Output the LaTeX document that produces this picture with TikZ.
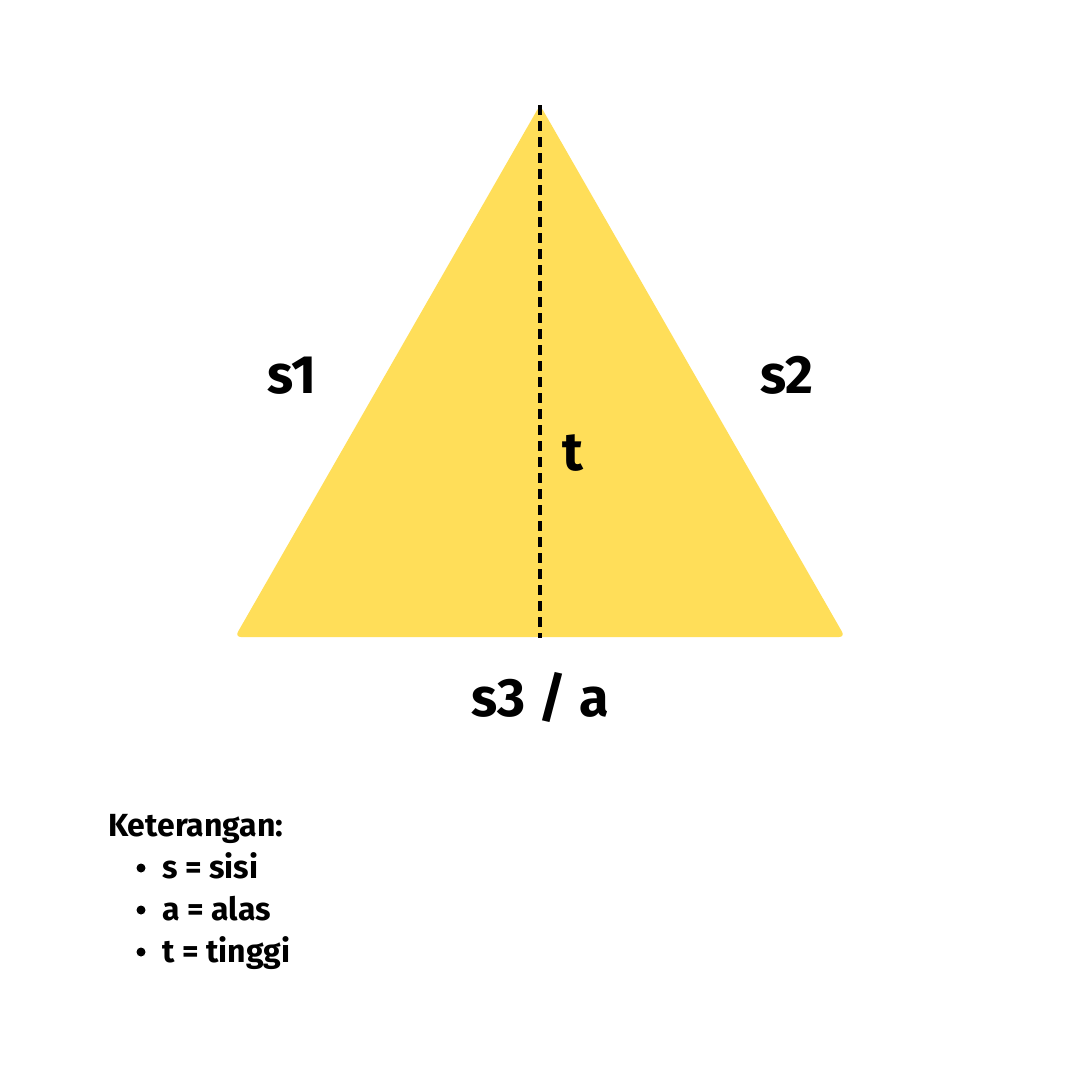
\documentclass[tikz,border=0pt]{standalone}
\usepackage{fontspec}
\setmainfont{Fira Sans}[BoldFont={Fira Sans Bold}]
\definecolor{tri}{HTML}{FFDE59}
\begin{document}
\begin{tikzpicture}[x=1pt,y=-1pt,
  big/.style={font=\bfseries\fontsize{54}{60}\selectfont,inner sep=0pt,anchor=base},
  small/.style={font=\bfseries\fontsize{32}{36}\selectfont,inner sep=0pt,anchor=base west}]
\useasboundingbox[fill=white] (0,0) rectangle (1080,1080);
\coordinate (A) at (540,105);
\coordinate (B) at (235,637);
\coordinate (C) at (845,637);
\coordinate (H) at (540,638);
\fill[tri,rounded corners=6pt] (A) -- (C) -- (B) -- cycle;
\draw[line width=3.6pt,dash pattern=on 10pt off 6pt] (A) -- (H);
\node[big] (s1) at (292,393) {s1};
\node[big] (s2) at (787,393) {s2};
\node[big] (t) at (573,470) {t};
\node[big] (s3) at (540,716) {s3 / a};
\node[small] (ket) at (108,836) {Keterangan:};
\node[small] (i1) at (162,878) {s = sisi};
\node[small] (i2) at (162,920) {a = alas};
\node[small] (i3) at (162,962) {t = tinggi};
\foreach \n in {i1,i2,i3} \fill ([xshift=-21pt,yshift=10pt]\n.base west) circle (4.5pt);
\end{tikzpicture}
\end{document}
